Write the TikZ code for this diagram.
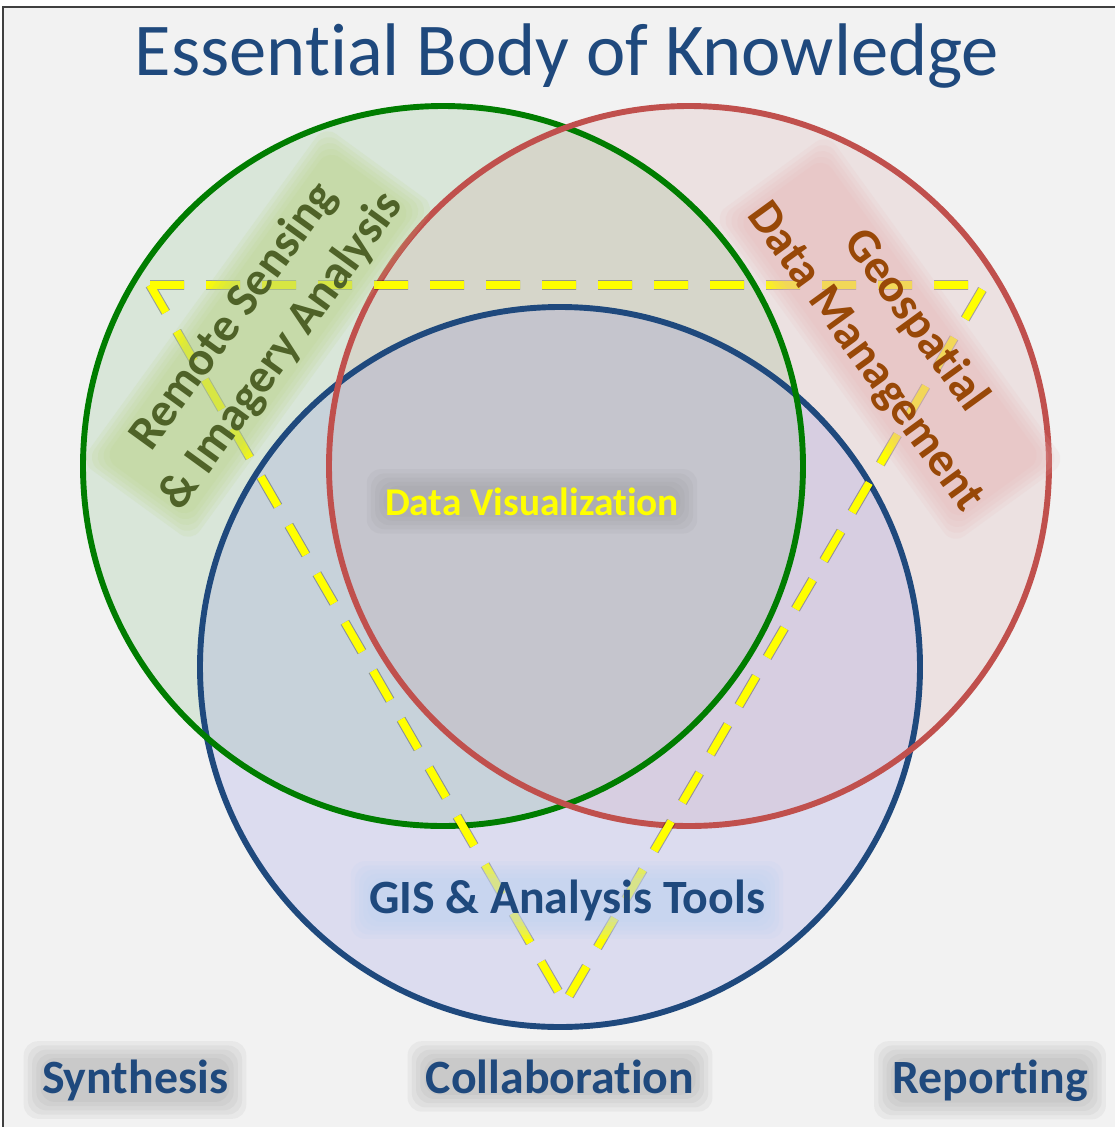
\documentclass[tikz,border=0pt]{standalone}
\usepackage{fontspec}
\setmainfont{Carlito}[Ligatures={NoCommon}]
\usetikzlibrary{positioning}

\definecolor{ebkblue}{RGB}{31,73,125}
\definecolor{ringgreen}{RGB}{0,125,0}
\definecolor{ringred}{RGB}{192,80,77}
\definecolor{ringblue}{RGB}{31,73,125}
\definecolor{fillblue}{RGB}{100,100,225}
\definecolor{rsolive}{RGB}{79,98,40}
\definecolor{gdbrown}{RGB}{152,72,7}
\definecolor{dashyellow}{RGB}{255,255,0}
\definecolor{glowgreen}{RGB}{185,212,130}
\definecolor{glowpink}{RGB}{232,180,180}
\definecolor{glowblue}{RGB}{190,210,240}
\definecolor{pagegray}{RGB}{242,242,242}

\begin{document}
\begin{tikzpicture}[x=0.025cm,y=-0.025cm]
    \tikzstyle{every node}+=[inner sep=0pt]
    \tikzstyle{ring}=[circle, minimum size=18cm]
    \tikzstyle{glow}=[fill opacity=0.09, rounded corners=10pt]
    \tikzstyle{label}=[font=\bfseries\fontsize{34}{40}\selectfont, text=ebkblue, anchor=base]
    \useasboundingbox (0,0) rectangle (1114,1127);
    % page
    \fill [white] (0,0) rectangle (1114,1127);
    \draw [black!75, line width=1.6pt, fill=pagegray] (3,7) rectangle (1140,1150);
    % title
    \node [font=\fontsize{53}{60}\selectfont, text=ebkblue, anchor=base] (title) at (567,75) {Essential Body of Knowledge};
    % the three rings
    \node [ring, fill=ringgreen, fill opacity=0.1] (grn) at (443,466) {};
    \node [ring, fill=ringred, fill opacity=0.1] (red) at (689,466) {};
    \node [ring, fill=fillblue, fill opacity=0.15] (blu) at (560,667) {};
    \draw [ringblue, line width=4.2pt] (blu.center) circle [radius=360];
    \draw [ringgreen, line width=4.2pt] (grn.center) circle [radius=360];
    \draw [ringred, line width=4.2pt] (red.center) circle [radius=360];
    % dashed triangle
    \coordinate (tl) at (150,285);
    \coordinate (tr) at (985,285);
    \coordinate (bt) at (565,1003);
    \draw [black, opacity=0.3, line width=7pt, dash pattern=on 0.85cm off 0.55cm, shift={(2,3)}] (tl) -- (tr) -- (bt) -- cycle;
    \draw [dashyellow, line width=5.5pt, dash pattern=on 0.85cm off 0.55cm] (tl) -- (tr) -- (bt) -- cycle;
    % glows
    \foreach \g in {13,10,7,4,1} {
        \node [glow, fill=glowgreen, fill opacity=0.14, rotate=54, align=center, font=\bfseries\fontsize{34}{42}\selectfont, inner sep=\g pt] (rsglow\g) at (258,334) {\phantom{Remote Sensing}\\\phantom{\& Imagery Analysis}};
        \node [glow, fill=glowpink, fill opacity=0.13, rotate=-54, align=center, font=\bfseries\fontsize{34}{44}\selectfont, inner sep=\g pt] (gdglow\g) at (890,339) {\phantom{Geospatial}\\\phantom{Data Management}};
        \node [glow, fill=black!45, label, inner sep=\g pt] (synglow\g) at (135,1093) {\phantom{Synthesis}};
        \node [glow, fill=black!45, label, inner sep=\g pt] (colglow\g) at (560,1093) {\phantom{Collaboration}};
        \node [glow, fill=black!45, label, inner sep=\g pt] (repglow\g) at (990,1093) {\phantom{Reporting}};
        \node [glow, fill=glowblue, fill opacity=0.16, label, inner sep=\g pt] (gisglow\g) at (567,913) {\phantom{GIS \& Analysis Tools}};
        \node [glow, fill=black!45, label, font=\bfseries\fontsize{28}{32}\selectfont, inner sep=\g pt] (dvglow\g) at (532,515) {\phantom{Data Visualization}};
    }
    % labels
    \node [rotate=54, align=center, font=\bfseries\fontsize{34}{42}\selectfont, text=rsolive] (remote) at (258,334) {Remote Sensing\\\& Imagery Analysis};
    \node [rotate=-54, align=center, font=\bfseries\fontsize{34}{44}\selectfont, text=gdbrown] (geo) at (890,339) {Geospatial\\Data Management};
    \node [label, text=dashyellow, font=\bfseries\fontsize{28}{32}\selectfont] (dataviz) at (532,515) {Data Visualization};
    \node [label] (gis) at (567,913) {GIS \& Analysis Tools};
    \node [label] (synth) at (135,1093) {Synthesis};
    \node [label] (collab) at (560,1093) {Collaboration};
    \node [label] (report) at (990,1093) {Reporting};
\end{tikzpicture}
\end{document}
